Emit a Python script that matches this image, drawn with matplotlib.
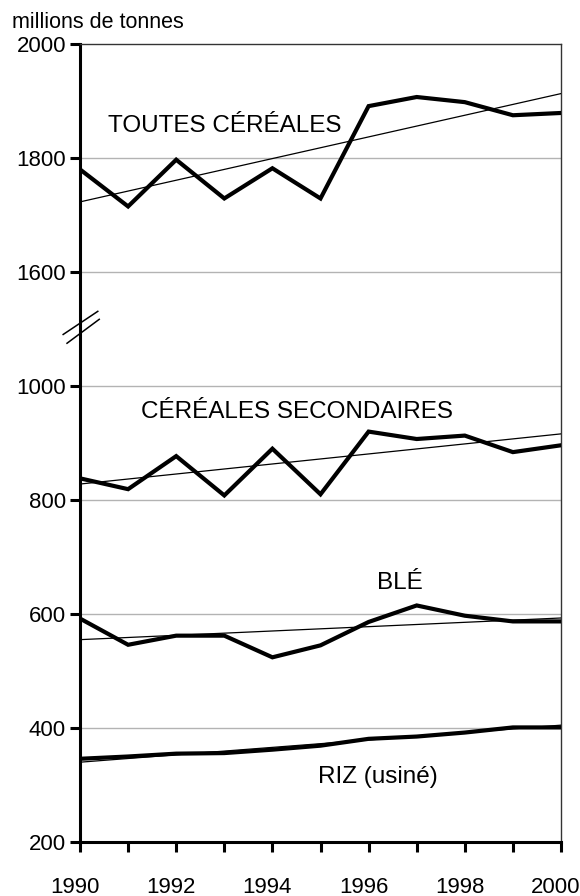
import numpy as np
import matplotlib
matplotlib.use("Agg")
import matplotlib.pyplot as plt
import matplotlib.transforms as mtransforms

plt.rcParams['font.family'] = ['Liberation Sans', 'DejaVu Sans']

years = list(range(1990, 2001))

# values, millions de tonnes
toutes = [1780, 1715, 1797, 1729, 1782, 1729, 1891, 1907, 1898, 1875, 1879]
secondaires = [838, 819, 877, 808, 890, 810, 920, 907, 913, 884, 896]
ble = [592, 546, 562, 562, 524, 545, 586, 615, 597, 587, 587]
riz = [346, 350, 355, 356, 362, 369, 381, 385, 392, 401, 401]

# trend lines (start 1990, end 2000)
toutes_trend = [1723, 1913]
secondaires_trend = [828, 916]
ble_trend = [555, 593]
riz_trend = [340, 405]

tick_values = [200, 400, 600, 800, 1000, 1600, 1800, 2000]

# broken axis: everything above the break is shifted down by this much
SHIFT = 400
BREAK = 1000


def to_axis(v):
    v = np.asarray(v, dtype=float)
    return np.where(v > BREAK + 200, v - SHIFT, v)


fig = plt.figure(figsize=(5.8, 8.96), dpi=100)
ax = fig.add_axes([80 / 580, 1 - 842 / 896, 481 / 580, 798 / 896])

series = [(toutes, toutes_trend), (secondaires, secondaires_trend),
          (ble, ble_trend), (riz, riz_trend)]
for vals, trend in series:
    ax.plot([years[0], years[-1]], to_axis(trend), color='black', lw=0.9, zorder=3)
    ax.plot(years, to_axis(vals), color='black', lw=3.0, zorder=4,
            solid_joinstyle='miter')

ax.set_xlim(1990, 2000)
ax.set_ylim(200, 1600)

ticks_pos = to_axis(tick_values)
ax.set_yticks(ticks_pos)
ax.set_yticklabels([str(t) for t in tick_values])
for yv in ticks_pos[1:-1]:
    ax.axhline(yv, color='#b3b3b3', lw=1.0, zorder=1)

ax.set_xticks(years)
ax.set_xticklabels([str(y) if y % 2 == 0 else '' for y in years])

ax.tick_params(axis='y', direction='out', length=7, width=2.2, pad=3,
               labelsize=16)
ax.tick_params(axis='x', direction='out', length=7, width=2.2, pad=18,
               labelsize=16)

# year labels sit a little left of their ticks
offset = mtransforms.ScaledTranslation(-5 / 100, 0, fig.dpi_scale_trans)
for lbl in ax.get_xticklabels():
    lbl.set_transform(lbl.get_transform() + offset)

for side in ['left', 'bottom']:
    ax.spines[side].set_linewidth(2.2)
for side in ['top', 'right']:
    ax.spines[side].set_linewidth(1.0)
    ax.spines[side].set_color('#333333')

# break marks on the y axis
ax.plot([-0.035, 0.037], [0.636, 0.665], transform=ax.transAxes,
        color='black', lw=1.1, clip_on=False, zorder=5)
ax.plot([-0.027, 0.040], [0.625, 0.655], transform=ax.transAxes,
        color='black', lw=1.1, clip_on=False, zorder=5)

ax.text(1990.58, 1857 - SHIFT, 'TOUTES CÉRÉALES', fontsize=17.5,
        ha='left', va='center')
ax.text(1991.27, 955, 'CÉRÉALES SECONDAIRES', fontsize=17.5,
        ha='left', va='center')
ax.text(1996.66, 654, 'BLÉ', fontsize=17.5, ha='center', va='center')
ax.text(1996.2, 314, 'RIZ (usiné)', fontsize=17.5, ha='center', va='center')

fig.text(12 / 580, 1 - 23 / 896, 'millions de tonnes', fontsize=15.5,
         ha='left', va='center')

fig.savefig('out.png', dpi=100)
